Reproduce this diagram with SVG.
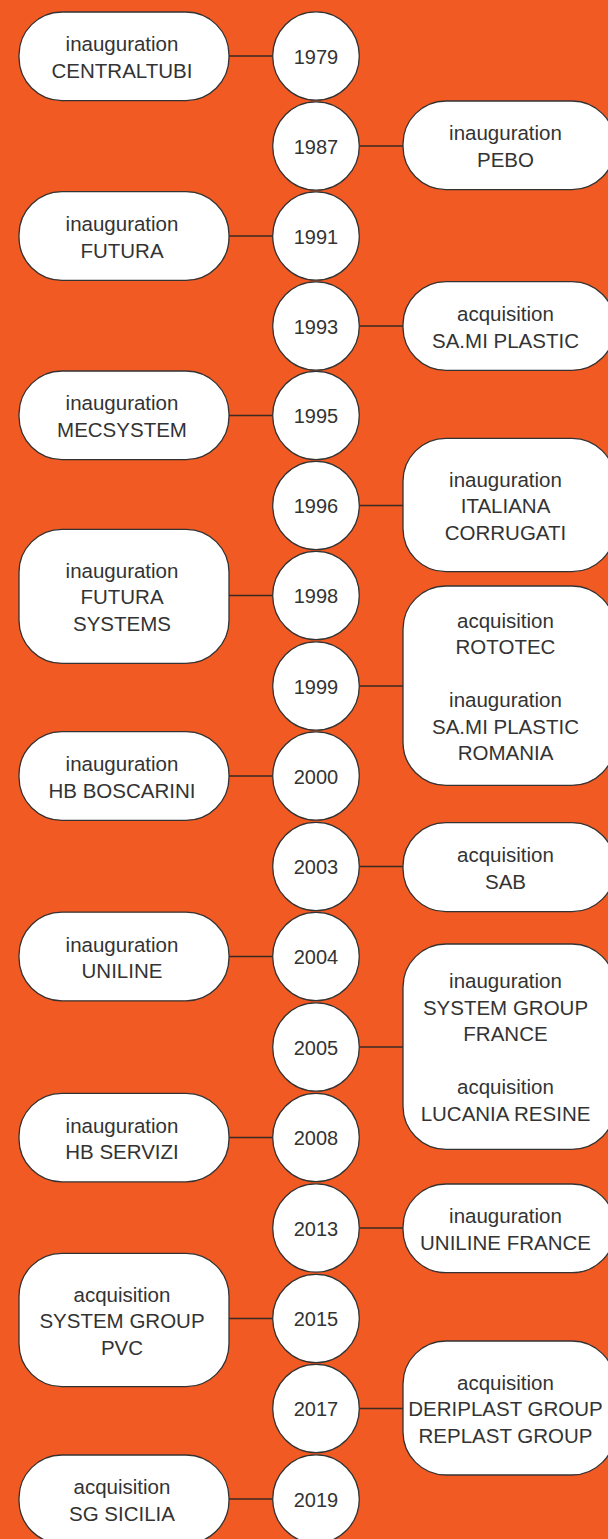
<svg xmlns="http://www.w3.org/2000/svg" width="608" height="1539" viewBox="0 0 608 1539">
  <style>
    .bg { fill: #F15A22; }
    .box { fill: #ffffff; stroke: #333333; stroke-width: 1.3; }
    .year { fill: #ffffff; stroke: #333333; stroke-width: 1.3; }
    .link { stroke: #3a2a24; stroke-width: 1.6; fill: none; }
    text { font-family: "Liberation Sans", Arial, Helvetica, sans-serif; font-size: 20.5px; fill: #333333; text-anchor: middle; }
    .yr { font-size: 20px; }
  </style>

  <rect class="bg" x="0" y="0" width="608" height="1539"/>

  <!-- horizontal links between events and years -->
  <g id="connectors">
    <line class="link" x1="229" y1="56" x2="273" y2="56"/>
    <line class="link" x1="359" y1="146" x2="403" y2="146"/>
    <line class="link" x1="229" y1="236" x2="273" y2="236"/>
    <line class="link" x1="359" y1="326" x2="403" y2="326"/>
    <line class="link" x1="229" y1="415.5" x2="273" y2="415.5"/>
    <line class="link" x1="359" y1="505.5" x2="403" y2="505.5"/>
    <line class="link" x1="229" y1="595.5" x2="273" y2="595.5"/>
    <line class="link" x1="359" y1="686" x2="403" y2="686"/>
    <line class="link" x1="229" y1="776" x2="273" y2="776"/>
    <line class="link" x1="359" y1="866.5" x2="403" y2="866.5"/>
    <line class="link" x1="229" y1="956.5" x2="273" y2="956.5"/>
    <line class="link" x1="359" y1="1047" x2="403" y2="1047"/>
    <line class="link" x1="229" y1="1137.5" x2="273" y2="1137.5"/>
    <line class="link" x1="359" y1="1228" x2="403" y2="1228"/>
    <line class="link" x1="229" y1="1318.5" x2="273" y2="1318.5"/>
    <line class="link" x1="359" y1="1408.5" x2="403" y2="1408.5"/>
    <line class="link" x1="229" y1="1499" x2="273" y2="1499"/>
  </g>

  <!-- year circles -->
  <g id="y1979"><ellipse class="year" cx="316" cy="56" rx="43.3" ry="44.2"/><text class="yr" x="316" y="63.5">1979</text></g>
  <g id="y1987"><ellipse class="year" cx="316" cy="146" rx="43.3" ry="44.2"/><text class="yr" x="316" y="153.5">1987</text></g>
  <g id="y1991"><ellipse class="year" cx="316" cy="236" rx="43.3" ry="44.2"/><text class="yr" x="316" y="243.5">1991</text></g>
  <g id="y1993"><ellipse class="year" cx="316" cy="326" rx="43.3" ry="44.2"/><text class="yr" x="316" y="333.5">1993</text></g>
  <g id="y1995"><ellipse class="year" cx="316" cy="415.5" rx="43.3" ry="44.2"/><text class="yr" x="316" y="423">1995</text></g>
  <g id="y1996"><ellipse class="year" cx="316" cy="505.5" rx="43.3" ry="44.2"/><text class="yr" x="316" y="513">1996</text></g>
  <g id="y1998"><ellipse class="year" cx="316" cy="595.5" rx="43.3" ry="44.2"/><text class="yr" x="316" y="603">1998</text></g>
  <g id="y1999"><ellipse class="year" cx="316" cy="686" rx="43.3" ry="44.2"/><text class="yr" x="316" y="693.5">1999</text></g>
  <g id="y2000"><ellipse class="year" cx="316" cy="776" rx="43.3" ry="44.2"/><text class="yr" x="316" y="783.5">2000</text></g>
  <g id="y2003"><ellipse class="year" cx="316" cy="866.5" rx="43.3" ry="44.2"/><text class="yr" x="316" y="874">2003</text></g>
  <g id="y2004"><ellipse class="year" cx="316" cy="956.5" rx="43.3" ry="44.2"/><text class="yr" x="316" y="964">2004</text></g>
  <g id="y2005"><ellipse class="year" cx="316" cy="1047" rx="43.3" ry="44.2"/><text class="yr" x="316" y="1054.5">2005</text></g>
  <g id="y2008"><ellipse class="year" cx="316" cy="1137.5" rx="43.3" ry="44.2"/><text class="yr" x="316" y="1145">2008</text></g>
  <g id="y2013"><ellipse class="year" cx="316" cy="1228" rx="43.3" ry="44.2"/><text class="yr" x="316" y="1235.5">2013</text></g>
  <g id="y2015"><ellipse class="year" cx="316" cy="1318.5" rx="43.3" ry="44.2"/><text class="yr" x="316" y="1326">2015</text></g>
  <g id="y2017"><ellipse class="year" cx="316" cy="1408.5" rx="43.3" ry="44.2"/><text class="yr" x="316" y="1416">2017</text></g>
  <g id="y2019"><ellipse class="year" cx="316" cy="1499" rx="43.3" ry="44.2"/><text class="yr" x="316" y="1506.5">2019</text></g>

  <!-- events on the left -->
  <g id="ev-centraltubi">
    <rect class="box" x="19" y="12" width="210" height="88.6" rx="43" ry="43"/>
    <text x="122"><tspan x="122" y="51">inauguration</tspan><tspan x="122" y="77.5">CENTRALTUBI</tspan></text>
  </g>
  <g id="ev-futura">
    <rect class="box" x="19" y="191.7" width="210" height="88.6" rx="43" ry="43"/>
    <text x="122"><tspan x="122" y="231">inauguration</tspan><tspan x="122" y="257.5">FUTURA</tspan></text>
  </g>
  <g id="ev-mecsystem">
    <rect class="box" x="19" y="371" width="210" height="88.6" rx="43" ry="43"/>
    <text x="122"><tspan x="122" y="410">inauguration</tspan><tspan x="122" y="436.5">MECSYSTEM</tspan></text>
  </g>
  <g id="ev-futura-systems">
    <rect class="box" x="19" y="529.3" width="210" height="134" rx="43" ry="43"/>
    <text x="122"><tspan x="122" y="577.5">inauguration</tspan><tspan x="122" y="604">FUTURA</tspan><tspan x="122" y="630.5">SYSTEMS</tspan></text>
  </g>
  <g id="ev-hb-boscarini">
    <rect class="box" x="19" y="731.7" width="210" height="88.6" rx="43" ry="43"/>
    <text x="122"><tspan x="122" y="771">inauguration</tspan><tspan x="122" y="797.5">HB BOSCARINI</tspan></text>
  </g>
  <g id="ev-uniline">
    <rect class="box" x="19" y="912.2" width="210" height="88.6" rx="43" ry="43"/>
    <text x="122"><tspan x="122" y="951.5">inauguration</tspan><tspan x="122" y="978">UNILINE</tspan></text>
  </g>
  <g id="ev-hb-servizi">
    <rect class="box" x="19" y="1093.3" width="210" height="88.6" rx="43" ry="43"/>
    <text x="122"><tspan x="122" y="1132.5">inauguration</tspan><tspan x="122" y="1159">HB SERVIZI</tspan></text>
  </g>
  <g id="ev-sg-pvc">
    <rect class="box" x="19" y="1253.3" width="210" height="133.4" rx="43" ry="43"/>
    <text x="122"><tspan x="122" y="1301.5">acquisition</tspan><tspan x="122" y="1328">SYSTEM GROUP</tspan><tspan x="122" y="1354.5">PVC</tspan></text>
  </g>
  <g id="ev-sg-sicilia">
    <rect class="box" x="19" y="1455" width="210" height="88.6" rx="43" ry="43"/>
    <text x="122"><tspan x="122" y="1494">acquisition</tspan><tspan x="122" y="1520.5">SG SICILIA</tspan></text>
  </g>

  <!-- events on the right -->
  <g id="ev-pebo">
    <rect class="box" x="403" y="101" width="212" height="88.6" rx="43" ry="43"/>
    <text x="505.5"><tspan x="505.5" y="140">inauguration</tspan><tspan x="505.5" y="166.5">PEBO</tspan></text>
  </g>
  <g id="ev-sami-plastic">
    <rect class="box" x="403" y="281.7" width="212" height="88.6" rx="43" ry="43"/>
    <text x="505.5"><tspan x="505.5" y="321">acquisition</tspan><tspan x="505.5" y="347.5">SA.MI PLASTIC</tspan></text>
  </g>
  <g id="ev-italiana-corrugati">
    <rect class="box" x="403" y="438.3" width="212" height="133.4" rx="43" ry="43"/>
    <text x="505.5"><tspan x="505.5" y="486.5">inauguration</tspan><tspan x="505.5" y="513">ITALIANA</tspan><tspan x="505.5" y="539.5">CORRUGATI</tspan></text>
  </g>
  <g id="ev-rototec-romania">
    <rect class="box" x="403" y="586" width="212" height="199.3" rx="43" ry="43"/>
    <text x="505.5"><tspan x="505.5" y="627.5">acquisition</tspan><tspan x="505.5" y="654">ROTOTEC</tspan><tspan x="505.5" y="707">inauguration</tspan><tspan x="505.5" y="733.5">SA.MI PLASTIC</tspan><tspan x="505.5" y="760">ROMANIA</tspan></text>
  </g>
  <g id="ev-sab">
    <rect class="box" x="403" y="822.7" width="212" height="89" rx="43" ry="43"/>
    <text x="505.5"><tspan x="505.5" y="862">acquisition</tspan><tspan x="505.5" y="888.5">SAB</tspan></text>
  </g>
  <g id="ev-sg-france-lucania">
    <rect class="box" x="403" y="944" width="212" height="205.3" rx="43" ry="43"/>
    <text x="505.5"><tspan x="505.5" y="988">inauguration</tspan><tspan x="505.5" y="1014.5">SYSTEM GROUP</tspan><tspan x="505.5" y="1041">FRANCE</tspan><tspan x="505.5" y="1094">acquisition</tspan><tspan x="505.5" y="1120.5">LUCANIA RESINE</tspan></text>
  </g>
  <g id="ev-uniline-france">
    <rect class="box" x="403" y="1184" width="212" height="88.7" rx="43" ry="43"/>
    <text x="505.5"><tspan x="505.5" y="1223">inauguration</tspan><tspan x="505.5" y="1249.5">UNILINE FRANCE</tspan></text>
  </g>
  <g id="ev-deriplast-replast">
    <rect class="box" x="403" y="1341" width="212" height="134" rx="43" ry="43"/>
    <text x="505.5"><tspan x="505.5" y="1389.5">acquisition</tspan><tspan x="505.5" y="1416">DERIPLAST GROUP</tspan><tspan x="505.5" y="1442.5">REPLAST GROUP</tspan></text>
  </g>
</svg>
